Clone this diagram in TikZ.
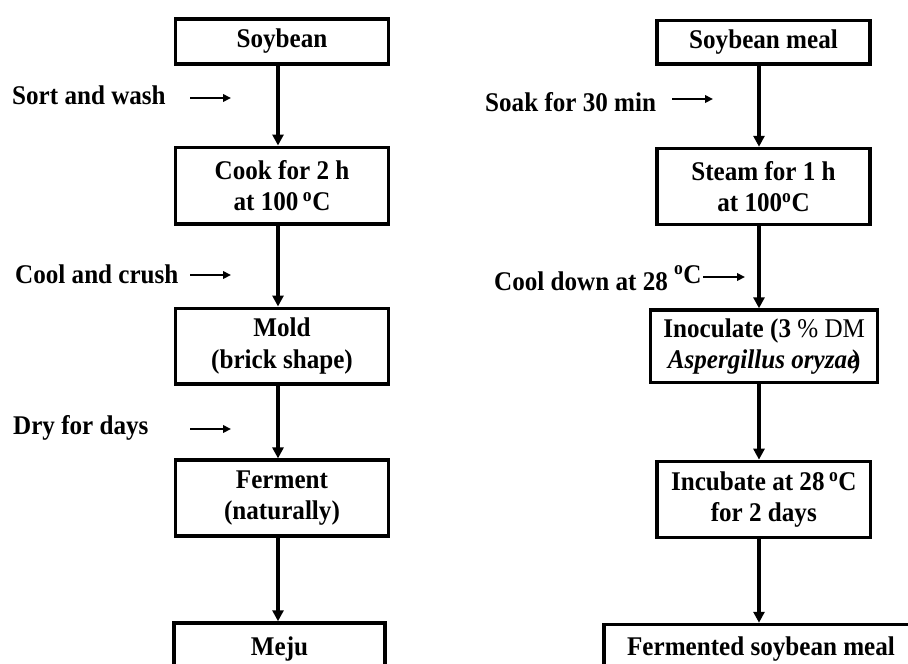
\documentclass[tikz,border=0pt]{standalone}
\usepackage{fontspec}
\setmainfont[FakeStretch=0.93]{Liberation Serif}
\usetikzlibrary{arrows.meta}
\begin{document}
\begin{tikzpicture}[x=1pt,y=-1pt,
  box/.style={draw, line width=3.5pt, align=center, inner sep=0pt,
    font=\fontsize{27}{31.5}\selectfont\bfseries},
  lbl/.style={inner sep=0pt, font=\fontsize{27}{31.5}\selectfont\bfseries},
  flow/.style={line width=4pt, -{Triangle[length=11pt,width=11pt]}},
  side/.style={line width=2.2pt, -{Triangle[length=8pt,width=7.5pt]}}]
\useasboundingbox (0,0) rectangle (908,664);
\fill[white] (0,0) rectangle (908,664);
\begin{scope}
\clip (0,0) rectangle (908,664);
% left column
\node[box, minimum width=213pt, minimum height=45pt] (soy) at (282,41.5) {Soybean};
\node[box, minimum width=213pt, minimum height=76.5pt] (cook) at (282,185.5) {Cook for 2 h\\at 100\,\textsuperscript{o}C};
\node[box, minimum width=213pt, minimum height=75.5pt] (mold) at (282,346) {Mold\\(brick shape)};
\node[box, minimum width=213pt, minimum height=75.7pt] (ferm) at (282,498) {Ferment\\(naturally)};
\node[box, minimum width=211pt, minimum height=52pt] (meju) at (279.5,649) {Meju};
% right column
\node[box, minimum width=213pt, minimum height=43.5pt] (meal) at (763.5,42) {Soybean meal};
\node[box, minimum width=213pt, minimum height=76pt] (steam) at (763.5,186.5) {Steam for 1 h\\at 100\textsuperscript{o}C};
\node[box, minimum width=227pt, minimum height=72.5pt] (inoc) at (764.2,346.3) {Inoculate (3 {\mdseries\% DM}\\\textit{Aspergillus oryzae}\hspace{-6pt})};
\node[box, minimum width=213.5pt, minimum height=76pt] (incub) at (763.8,499.4) {Incubate at 28\,\textsuperscript{o}C\\for 2 days};
\node[box, minimum width=400pt, minimum height=49pt] (fsm) at (804,649) {Fermented soybean meal\hspace{86pt}};
% flow arrows
\draw[flow] ([xshift=-4pt]soy.south) -- ([xshift=-4pt]cook.north);
\draw[flow] ([xshift=-4pt]cook.south) -- ([xshift=-4pt]mold.north);
\draw[flow] ([xshift=-4pt]mold.south) -- ([xshift=-4pt]ferm.north);
\draw[flow] ([xshift=-4pt]ferm.south) -- ([xshift=-1.5pt]meju.north);
\draw[flow] ([xshift=-4.5pt]meal.south) -- ([xshift=-4.5pt]steam.north);
\draw[flow] ([xshift=-4.5pt]steam.south) -- ([xshift=-5.2pt]inoc.north);
\draw[flow] ([xshift=-5.2pt]inoc.south) -- ([xshift=-4.8pt]incub.north);
\draw[flow] ([xshift=-4.8pt]incub.south) -- ([xshift=-45pt]fsm.north);
% side labels
\node[lbl, anchor=base west] (l1) at (12,104) {Sort and wash};
\node[lbl, anchor=base west] (l2) at (15,283) {Cool and crush};
\node[lbl, anchor=base west] (l3) at (13,434) {Dry for days};
\node[lbl, anchor=base west] (r1) at (485,111) {Soak for 30 min};
\node[lbl, anchor=base west] (r2) at (494,290.5) {Cool down at 28 \raisebox{7pt}{\textsuperscript{o}C}};
\coordinate (l1a) at (190,98); \coordinate (l1b) at (231,98);
\coordinate (l2a) at (190,275); \coordinate (l2b) at (231,275);
\coordinate (l3a) at (190,429); \coordinate (l3b) at (231,429);
\coordinate (r1a) at (672,99); \coordinate (r1b) at (713,99);
\coordinate (r2a) at (703,277); \coordinate (r2b) at (745,277);
\draw[side] (l1a) -- (l1b);
\draw[side] (l2a) -- (l2b);
\draw[side] (l3a) -- (l3b);
\draw[side] (r1a) -- (r1b);
\draw[side] (r2a) -- (r2b);
\end{scope}
\end{tikzpicture}
\end{document}
